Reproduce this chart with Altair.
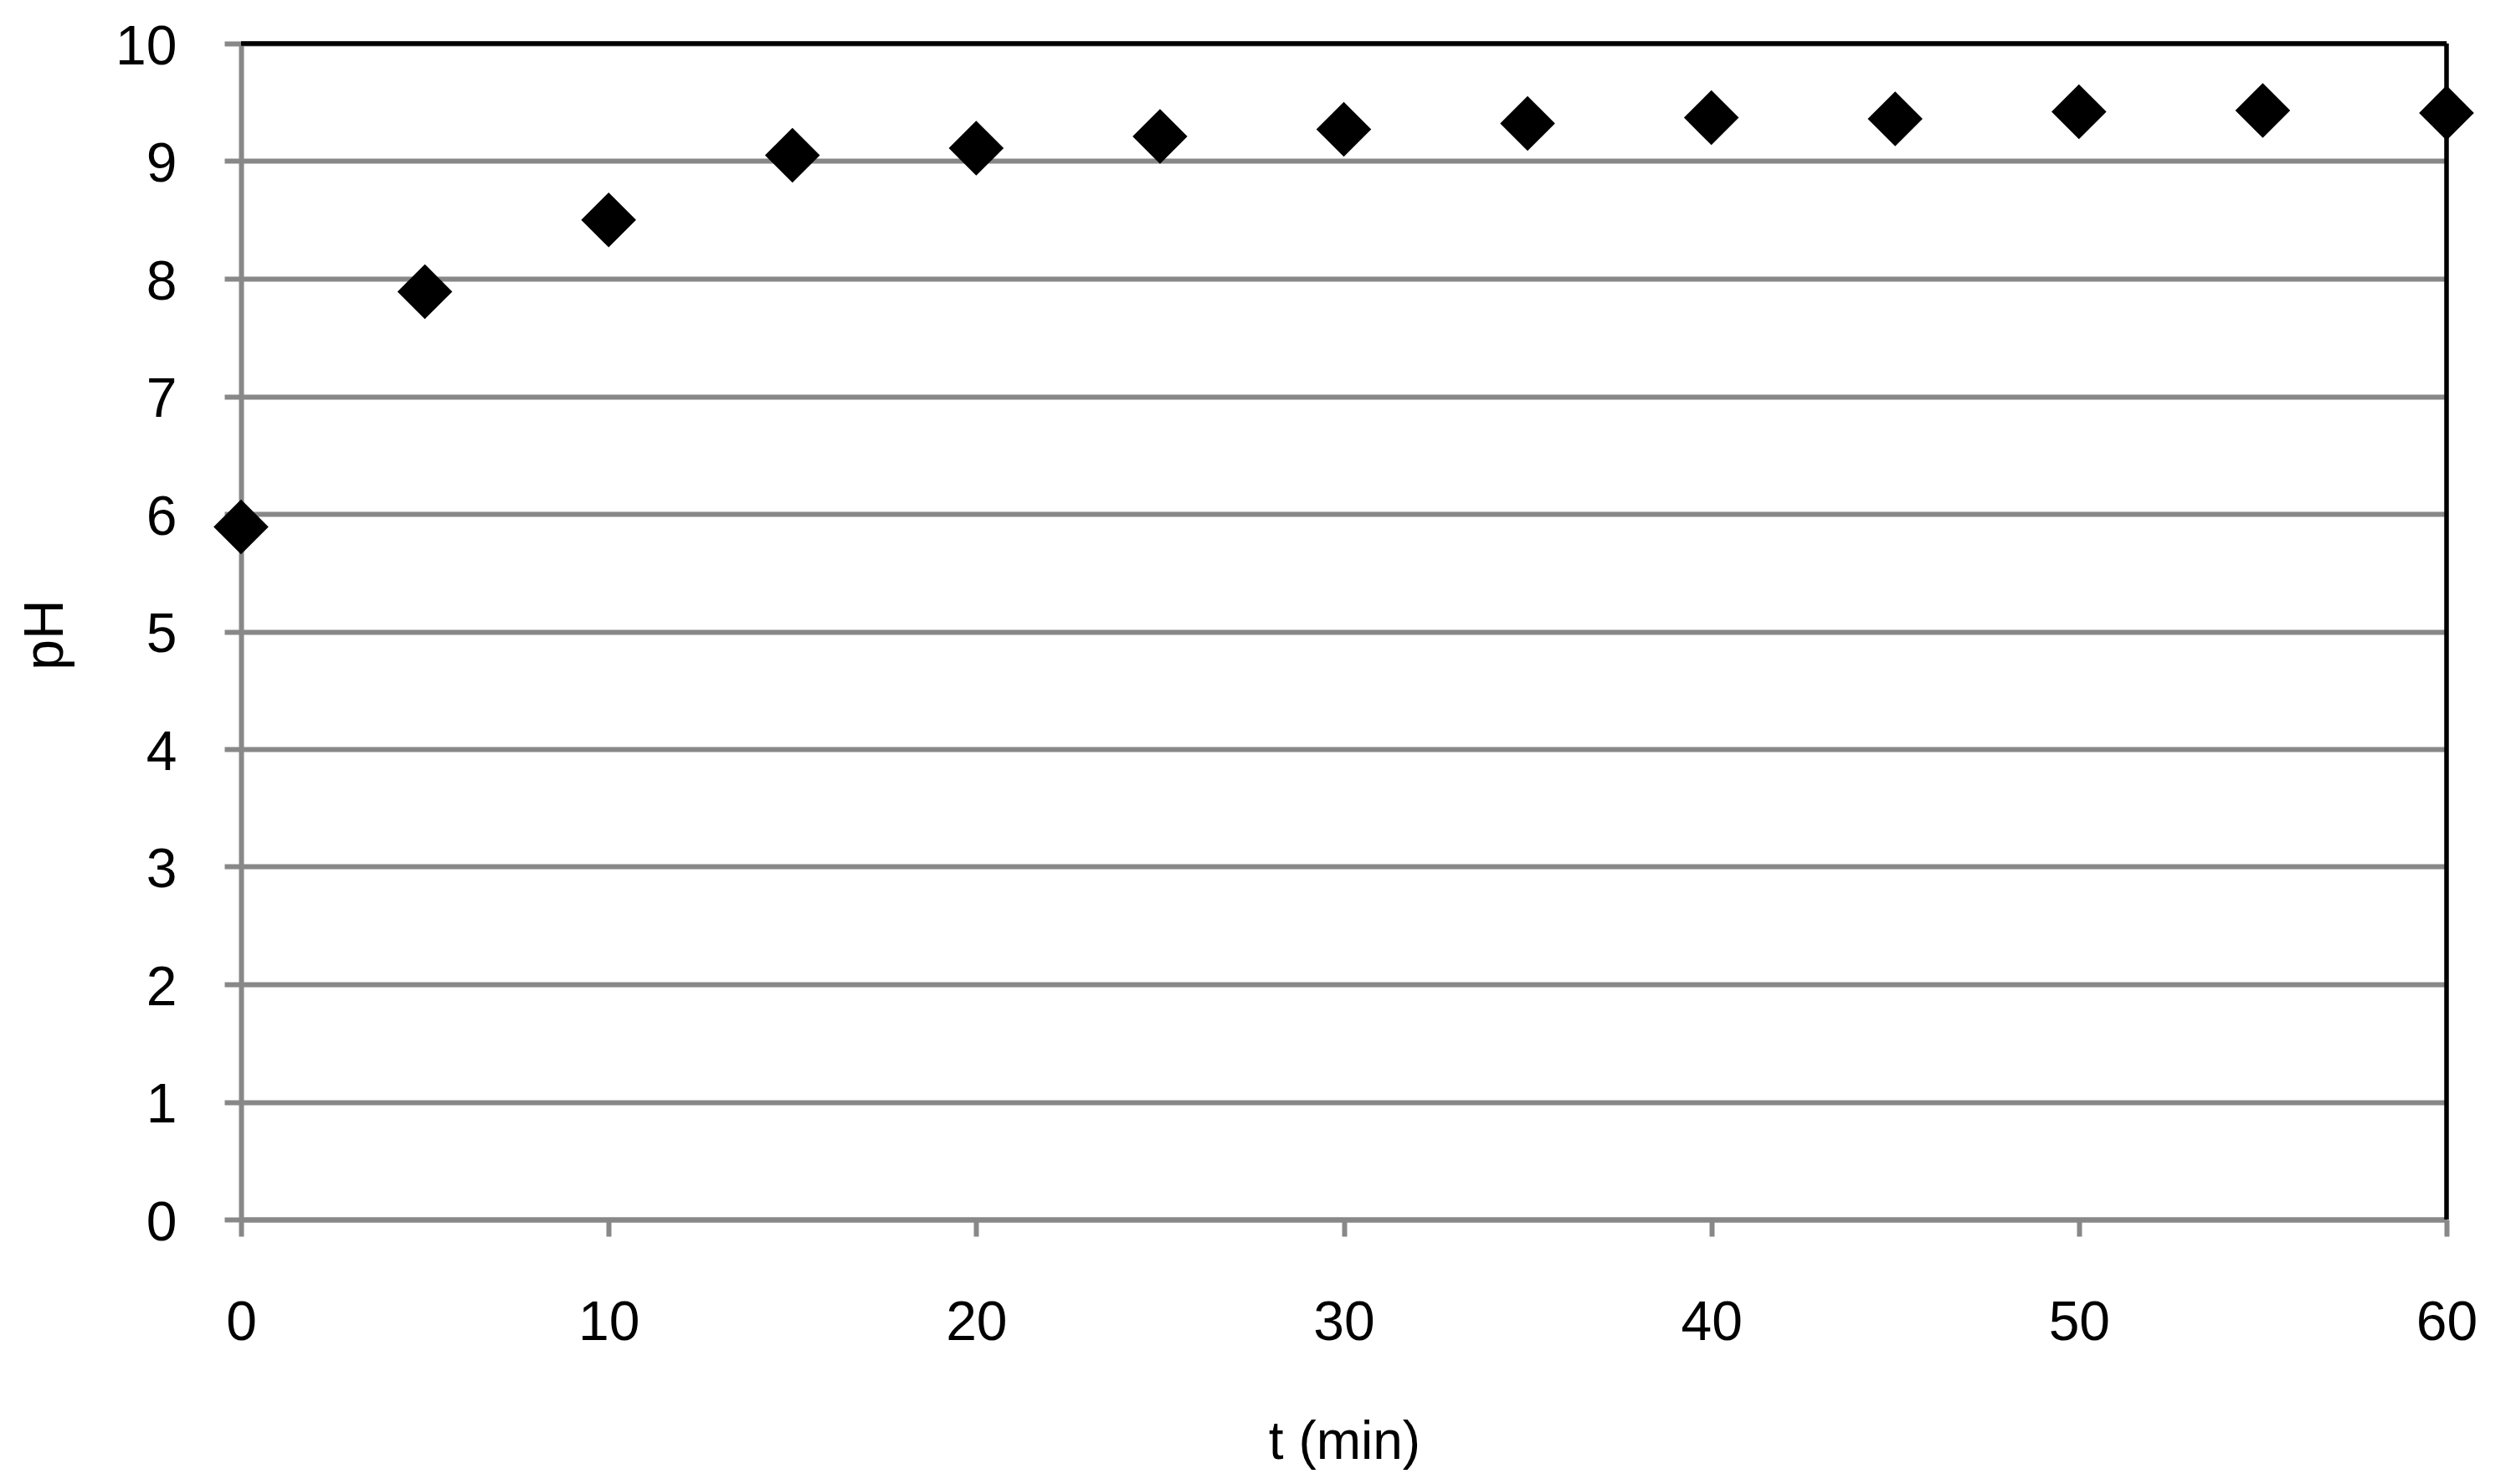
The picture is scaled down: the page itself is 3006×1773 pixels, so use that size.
import altair as alt
import pandas as pd

t_min = [0, 5, 10, 15, 20, 25, 30, 35, 40, 45, 50, 55, 60]
ph = [5.89, 7.89, 8.50, 9.05, 9.11, 9.21, 9.27, 9.32, 9.37, 9.36, 9.42, 9.43, 9.41]
x_ticks = [0, 10, 20, 30, 40, 50, 60]
y_ticks = [0, 1, 2, 3, 4, 5, 6, 7, 8, 9, 10]

df = pd.DataFrame({"t": t_min, "pH": ph})
border = pd.DataFrame({"x1": [0, 60], "x2": [60, 60], "y1": [10, 0], "y2": [10, 10]})

FONT = "Liberation Sans"
GRAY = "#888888"

x_scale = alt.Scale(domain=[0, 60], nice=False, zero=False)
y_scale = alt.Scale(domain=[0, 10], nice=False)

x_axis = alt.Axis(
    values=x_ticks, grid=False, title="t (min)", format="d",
    domainColor=GRAY, domainWidth=6, tickColor=GRAY, tickWidth=6, tickSize=20,
    labelFont=FONT, labelFontSize=66, labelColor="black", labelPadding=71,
    labelFlush=False, labelBaseline="top",
    titleFont=FONT, titleFontSize=64, titleFontWeight="normal", titleColor="black",
    titleX=1318, titleY=285, titleBaseline="alphabetic", titleAnchor="middle",
)
y_axis = alt.Axis(
    values=y_ticks, grid=True, gridColor=GRAY, gridWidth=6, title="pH", format="d",
    domainColor=GRAY, domainWidth=6, tickColor=GRAY, tickWidth=6, tickSize=20,
    labelFont=FONT, labelFontSize=66, labelColor="black", labelPadding=57,
    labelFlush=False, labelOffset=4,
    titleFont=FONT, titleFontSize=66, titleFontWeight="normal", titleColor="black",
    titleX=-214, titleY=706, titleBaseline="alphabetic", titleAngle=-90, titleAlign="center",
)

base_axes = alt.Chart(df).mark_point(opacity=0).encode(
    x=alt.X("t:Q", scale=x_scale, axis=x_axis),
    y=alt.Y("pH:Q", scale=y_scale, axis=y_axis),
)

borders = alt.Chart(border).mark_rule(color="black", strokeWidth=5.5).encode(
    x=alt.X("x1:Q", scale=x_scale),
    x2="x2:Q",
    y=alt.Y("y1:Q", scale=y_scale),
    y2="y2:Q",
)

points = alt.Chart(df).mark_point(shape="diamond", filled=True, color="black", opacity=1, size=4300).encode(
    x=alt.X("t:Q", scale=x_scale),
    y=alt.Y("pH:Q", scale=y_scale),
)

chart = alt.layer(base_axes, borders, points).properties(
    width=2635, height=1405,
    autosize=alt.AutoSizeParams(type="none"),
    padding={"left": 280, "top": 44, "right": 60, "bottom": 300},
    background="white",
).configure_view(stroke=None)

chart.save("out.html", embed_options={"renderer": "svg", "actions": False})
